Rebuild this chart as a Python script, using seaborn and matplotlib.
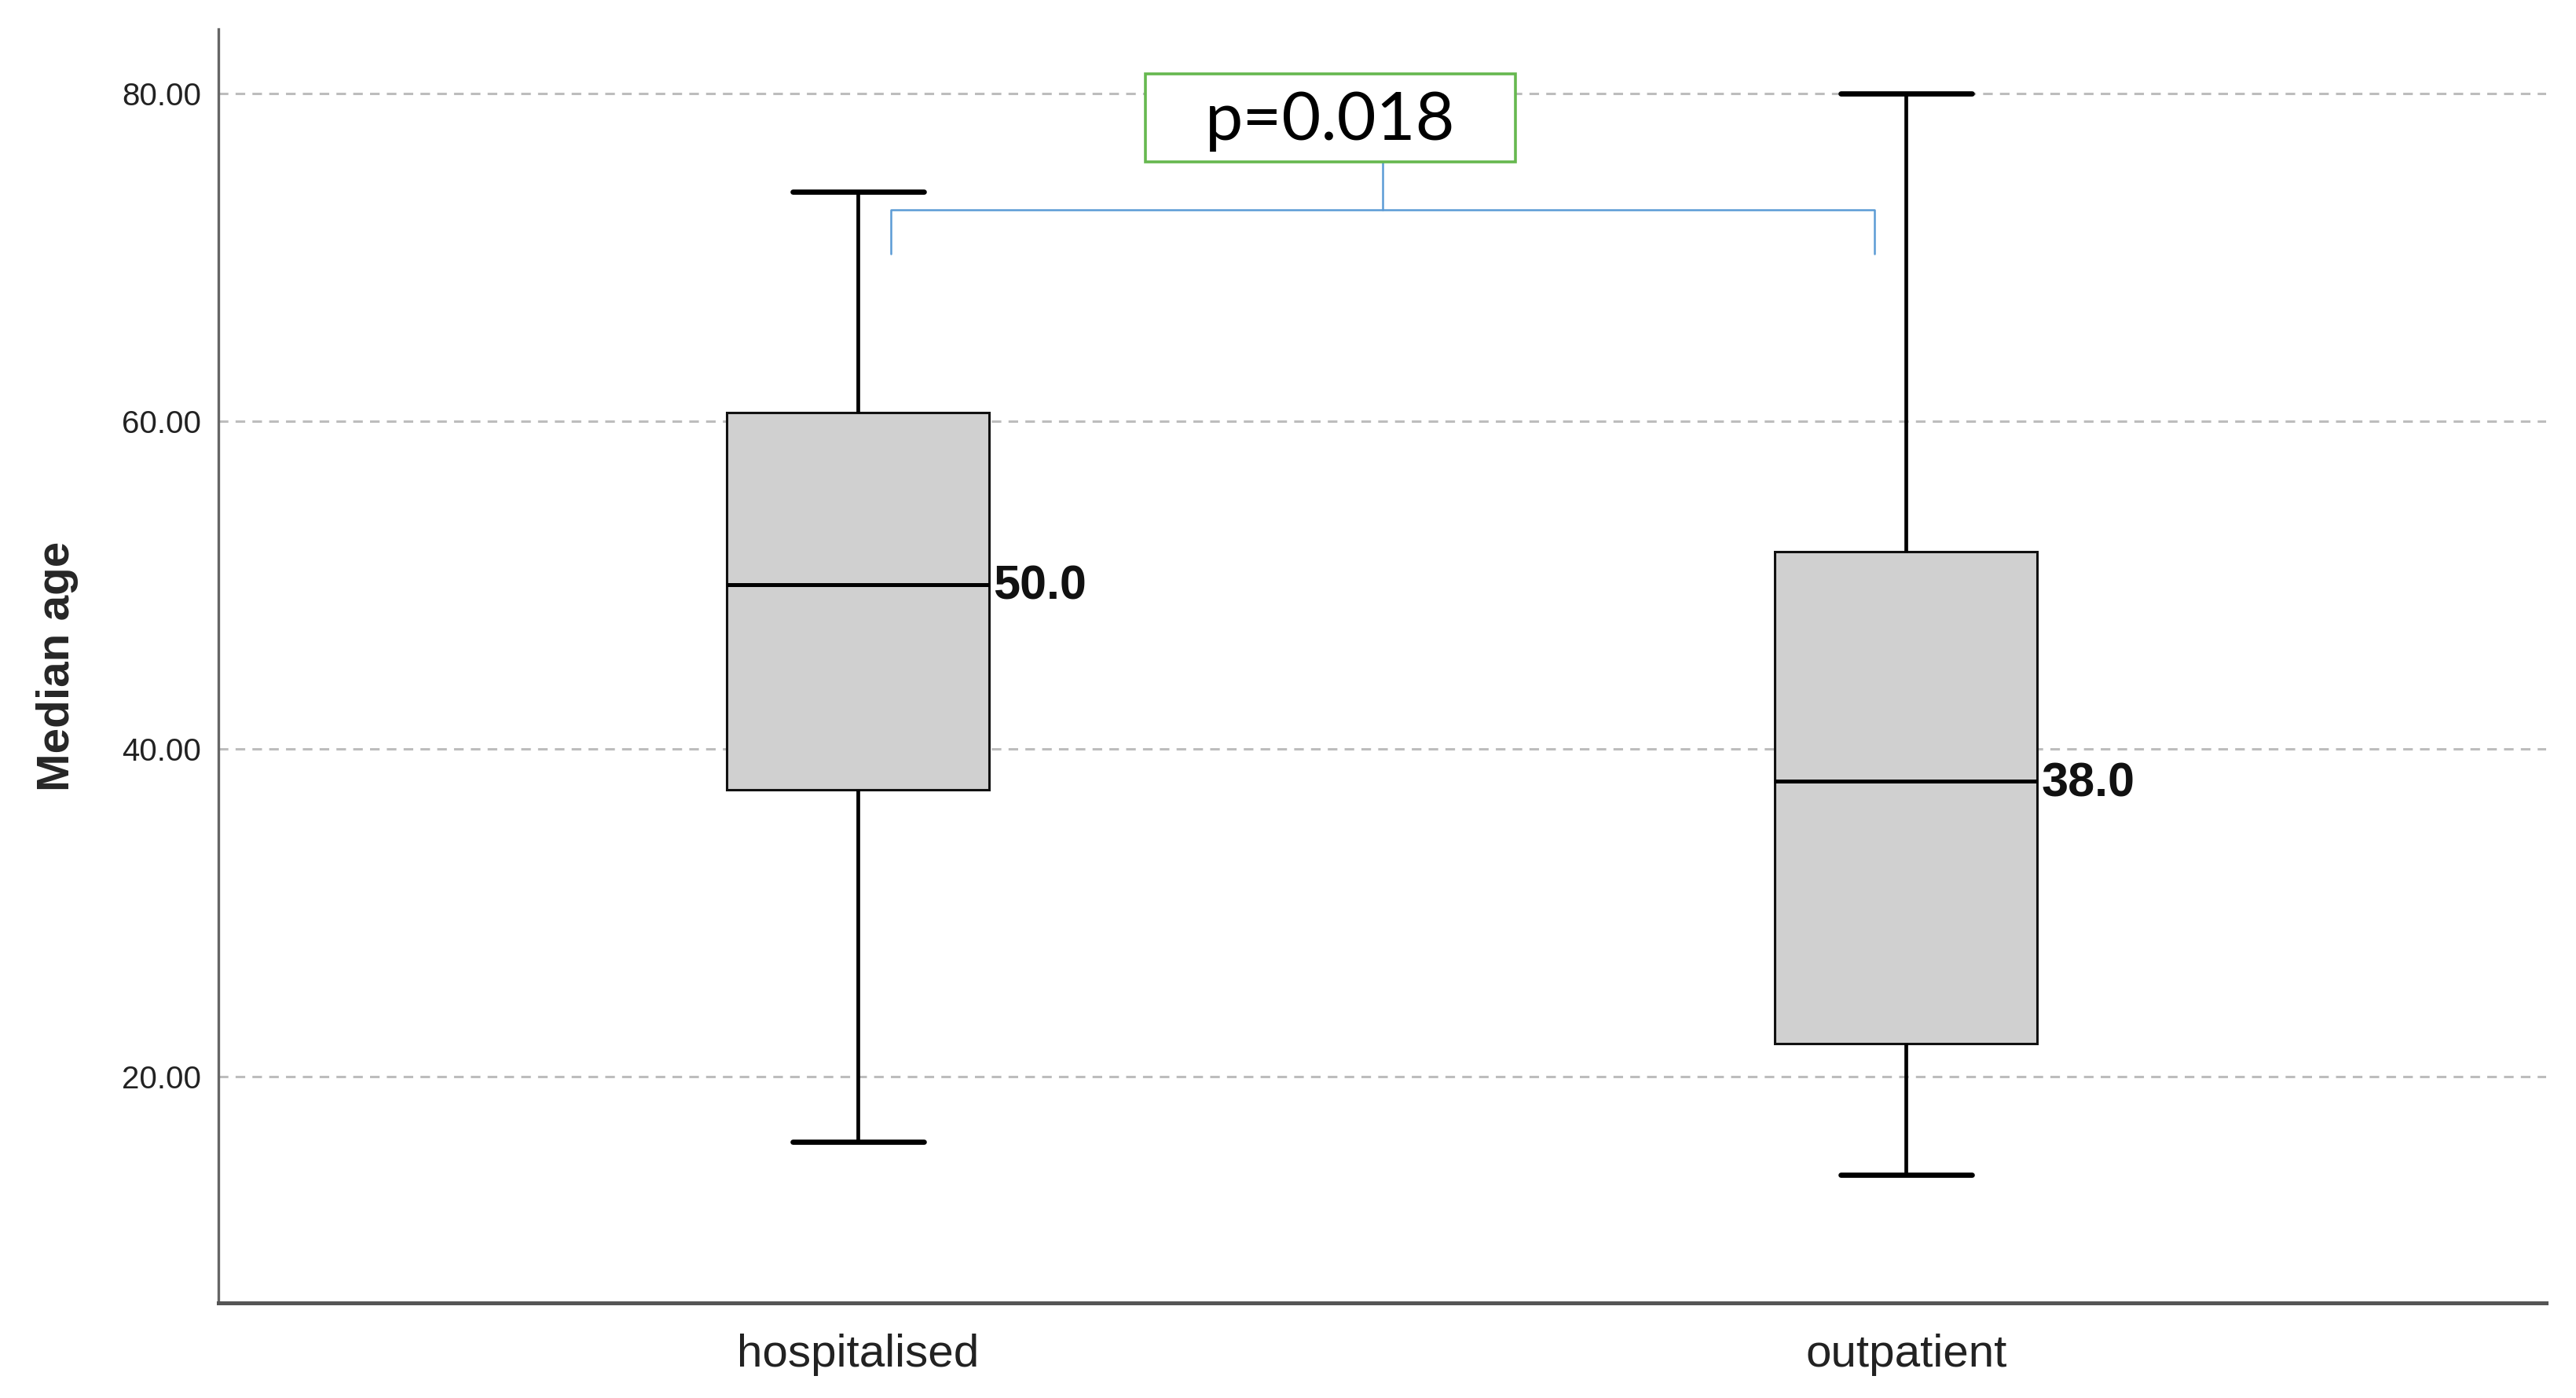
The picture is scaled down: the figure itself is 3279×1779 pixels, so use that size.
import matplotlib
matplotlib.use("Agg")
import matplotlib.pyplot as plt
import matplotlib.patches as mpatches
import seaborn as sns
import pandas as pd
import numpy as np

# ---- data ----
categories = ["hospitalised", "outpatient"]
whisker_low = [16.0, 14.0]
q1 = [37.5, 22.0]
median = [50.0, 38.0]
q3 = [60.5, 52.0]
whisker_high = [74.0, 80.0]
median_labels = ["50.0", "38.0"]
y_ticks = [20, 40, 60, 80]
y_tick_labels = ["20.00", "40.00", "60.00", "80.00"]
p_text = "p=0.018"

# five values per group reproduce exactly the box statistics
rows = []
for c, a, b, m, d, e in zip(categories, whisker_low, q1, median, q3, whisker_high):
    for v in (a, b, m, d, e):
        rows.append({"group": c, "age": v})
df = pd.DataFrame(rows)

sns.set_theme(style="white")
plt.rcParams["font.family"] = ["Liberation Sans", "DejaVu Sans"]

fig = plt.figure(figsize=(3279 / 200, 1779 / 200), dpi=200)
ax = fig.add_axes([0.0849, 0.068, 0.9036, 0.911])

box_w = 0.25
sns.boxplot(
    data=df, x="group", y="age", order=categories, ax=ax,
    width=box_w, color="#d0d0d0", linecolor="black", linewidth=1.1,
    whis=10, showfliers=False,
    boxprops=dict(facecolor="#d0d0d0", edgecolor="#111111", linewidth=1.1, zorder=3),
    whiskerprops=dict(color="black", linewidth=1.7, zorder=3),
    capprops=dict(color="black", linewidth=2.4, zorder=3),
    medianprops=dict(color="black", linewidth=1.8, zorder=4),
)

ax.set_xlim(-0.61, 1.611)
ax.set_ylim(6.17, 83.9)
ax.set_yticks(y_ticks)
ax.set_yticklabels(y_tick_labels, fontsize=14.5, color="#222222")
ax.set_xticks(range(len(categories)))
ax.set_xticklabels(categories, fontsize=21, color="#222222")
ax.tick_params(axis="both", length=0, pad=8)
ax.tick_params(axis="x", pad=14)
ax.set_xlabel("")
ax.set_ylabel("Median age", fontsize=21, fontweight="bold", labelpad=20)

for y in y_ticks:
    ax.axhline(y, color="#bdbdbd", linestyle=(0, (4, 3)), linewidth=1.1, zorder=1)

for s in ("top", "right"):
    ax.spines[s].set_visible(False)
ax.spines["left"].set_color("#666666")
ax.spines["left"].set_linewidth(1.2)
ax.spines["bottom"].set_color("#555555")
ax.spines["bottom"].set_linewidth(1.8)

# median labels
for i, (m, lab) in enumerate(zip(median, median_labels)):
    ax.text(i + box_w / 2 + 0.004, m - 0.15, lab, fontsize=22, fontweight="bold",
            ha="left", va="center", color="#111111", zorder=5)

# significance bracket
blue = "#5b9bd5"
bx0, bx1 = 0.031, 0.97
by_top, by_bot = 72.9, 70.2
ax.plot([bx0, bx0, bx1, bx1], [by_bot, by_top, by_top, by_bot], color=blue,
        linewidth=0.9, zorder=5)
xc = (bx0 + bx1) / 2
box_y0, box_y1 = 75.8, 81.2
ax.plot([xc, xc], [by_top, box_y0], color=blue, linewidth=0.9, zorder=5)

bx_left, bx_right = 0.274, 0.627
rect = mpatches.Rectangle((bx_left, box_y0), bx_right - bx_left, box_y1 - box_y0,
                          facecolor="white", edgecolor="#66b84f", linewidth=1.3, zorder=6)
ax.add_patch(rect)
ax.text((bx_left + bx_right) / 2, (box_y0 + box_y1) / 2 - 0.2, p_text,
        fontsize=31, family=["Lato", "DejaVu Sans"], ha="center", va="center",
        color="black", zorder=7)

fig.savefig("out.png", dpi=200, facecolor="white")
